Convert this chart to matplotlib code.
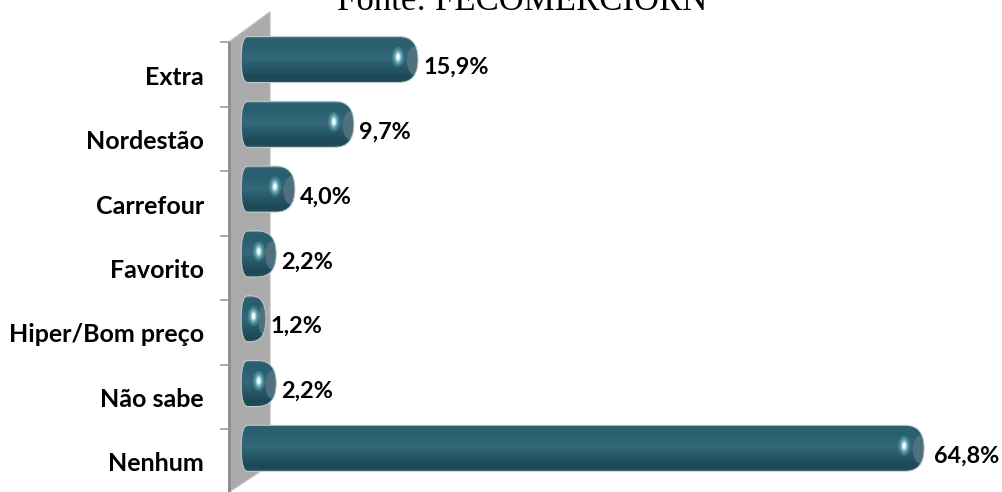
import matplotlib
matplotlib.use('Agg')
import matplotlib.pyplot as plt
import numpy as np
from matplotlib.patches import Ellipse, PathPatch, Polygon
from matplotlib.path import Path

categories = ['Extra', 'Nordestão', 'Carrefour', 'Favorito', 'Hiper/Bom preço', 'Não sabe', 'Nenhum']
values = [15.9, 9.7, 4.0, 2.2, 1.2, 2.2, 64.8]
source_text = 'Fonte: FECOMERCIORN'

W, H = 1002, 492
PX_PER_UNIT = 10.35
X0 = 253.5
ROW0 = 59.5
ROW_STEP = 64.8
BAR_H = 46 / ROW_STEP
LEFT = -12.3 / PX_PER_UNIT

fig = plt.figure(figsize=(W / 100, H / 100), dpi=100)

# the grey 3d wall, in pixels
bg = fig.add_axes([0, 0, 1, 1], zorder=0)
bg.set_xlim(0, W)
bg.set_ylim(H, 0)
bg.axis('off')
bg.add_patch(Polygon([(229, 42), (270, 12), (270, 465), (229, 492)], fc='#ababab', ec='#bdbdbd', lw=1))
bg.plot([229.5, 229.5], [42, 492], color='#8c8c8c', lw=2, solid_capstyle='butt')
for i in range(7):
    tick_y = 42 + 64.5 * i
    bg.plot([221, 229], [tick_y, tick_y], color='#9a9a9a', lw=1.2)
bg.text(522, 9.5, source_text, family='Liberation Serif', fontsize=25, ha='center', va='baseline', color='black')

ax = fig.add_axes([0, 0, 1, 1], zorder=1)
ax.patch.set_alpha(0)
ax.axis('off')


def bar_outline(x0, x1, y, h):
    # shallow curve on the left, big round end on the right
    top, bot = y - h / 2, y + h / 2
    rl = 6.5 / PX_PER_UNIT
    rr = min(19 / PX_PER_UNIT, (x1 - x0) * 0.62)
    verts = [(x0 + rl, top), (x1 - rr, top), (x1, top), (x1, y), (x1, bot), (x1 - rr, bot),
             (x0 + rl, bot), (x0, bot), (x0, y), (x0, top), (x0 + rl, top)]
    codes = [Path.MOVETO, Path.LINETO, Path.CURVE3, Path.CURVE3, Path.CURVE3, Path.CURVE3,
             Path.LINETO, Path.CURVE3, Path.CURVE3, Path.CURVE3, Path.CURVE3]
    return Path(verts, codes)


shade = matplotlib.colors.LinearSegmentedColormap.from_list(
    'tube', [(0, '#6f929c'), (0.05, '#2a5f70'), (0.2, '#28606f'), (0.5, '#35697a'), (0.6, '#2b5f70'),
             (0.9, '#1c4855'), (1, '#24505c')])
grad = np.linspace(0, 1, 128).reshape(-1, 1)

bars = ax.barh(range(len(values)), [v - LEFT for v in values], left=LEFT, height=BAR_H, color='#2c6272')
for i, (rect, v, cat) in enumerate(zip(bars, values, categories)):
    outline = PathPatch(bar_outline(LEFT, v, i, BAR_H), transform=ax.transData, fc='none', ec='#c4cdd0', lw=0.7, zorder=5)
    ax.add_patch(outline)
    rect.set_clip_path(outline)
    img = ax.imshow(grad, cmap=shade, aspect='auto', extent=(LEFT, v, i + BAR_H / 2, i - BAR_H / 2), zorder=3)
    img.set_clip_path(outline)

    # end cap and highlight
    width = v - LEFT
    cap_w = min(9 / PX_PER_UNIT, width * 0.25)
    cap = Ellipse((v - cap_w * 0.4, i + 0.02), cap_w * 1.7, BAR_H * 0.62, fc='#4f717e', ec='none', zorder=4)
    ax.add_patch(cap)
    cap.set_clip_path(outline)
    spot_x = v - min(20 / PX_PER_UNIT, width * 0.5)
    for w_px, h_px, alpha, col in [(12, 20, 0.22, '#8fdbe6'), (8, 15, 0.35, '#a8ecf3'), (5.5, 10, 0.6, '#c8f6fa'), (3, 6, 1, 'white')]:
        ax.add_patch(Ellipse((spot_x, i - 0.04), w_px / PX_PER_UNIT, h_px / ROW_STEP, fc=col, ec='none', alpha=alpha, zorder=6))

    ax.annotate(f'{v:.1f}%'.replace('.', ','), (v, i), xytext=(5 if v < 60 else 9.5, -8), textcoords='offset pixels',
                family='Lato', weight='bold', fontsize=16.8, ha='left', va='center', color='black', zorder=7)
    ax.annotate(cat, ((204 - X0) / PX_PER_UNIT, i), xytext=(0, -(18 - i * 0.45)), textcoords='offset pixels',
                family='Lato', weight='bold', fontsize=18, ha='right', va='center', color='black', zorder=7)

ax.set_xlim(-X0 / PX_PER_UNIT, (W - X0) / PX_PER_UNIT)
ax.set_ylim((H - ROW0) / ROW_STEP, -ROW0 / ROW_STEP)

fig.savefig('out.png', dpi=100, facecolor='white')
